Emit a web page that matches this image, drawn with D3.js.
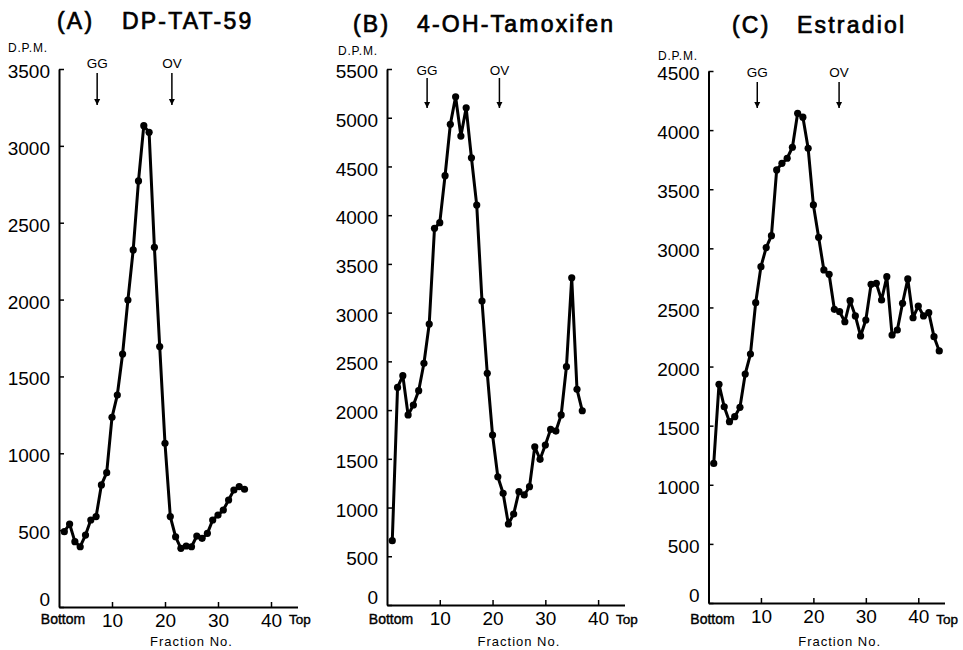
<!DOCTYPE html>
<html>
<head>
<meta charset="utf-8">
<script src="https://cdn.jsdelivr.net/npm/d3@7"></script>
<style>
  body { margin: 0; background: #fff; }
  text { font-family: "Liberation Sans", Arial, sans-serif; fill: #000; }
</style>
</head>
<body>
<div id="chart"></div>
<script>
// ---- data (fraction no. -> D.P.M.) ----
var fractionsA = d3.range(1, 36);
var dpmA = [490, 540, 425, 392, 468, 566, 588, 794, 874, 1234,
            1379, 1646, 1997, 2323, 2772, 3131, 3088, 2340, 1694, 1065,
            588, 457, 382, 397, 392, 462, 447, 479, 566, 598,
            631, 696, 761, 783, 766];

var fractionsB = d3.range(1, 38);
var dpmB = [660, 2233, 2353, 1950, 2052, 2199, 2480, 2883, 3865, 3923,
            4405, 4932, 5215, 4812, 5102, 4589, 4104, 3119, 2377, 1744,
            1316, 1146, 831, 934, 1163, 1129, 1214, 1624, 1495, 1642,
            1802, 1785, 1950, 2445, 3358, 2213, 1993];

var fractionsC = d3.range(1, 45);
var dpmC = [1181, 1850, 1660, 1534, 1576, 1655, 1937, 2106, 2540, 2845,
            3006, 3107, 3663, 3719, 3762, 3855, 4142, 4109, 3846, 3367,
            3093, 2817, 2780, 2484, 2464, 2379, 2557, 2428, 2259, 2394,
            2696, 2704, 2563, 2760, 2267, 2309, 2535, 2741, 2413, 2512,
            2428, 2456, 2253, 2132];

// panel titles and y axis tops
var panelLetters = ["(A)", "(B)", "(C)"];
var panelNames = ["DP-TAT-59", "4-OH-Tamoxifen", "Estradiol"];
var yMaxes = [3500, 5500, 4500];

// marker positions (fraction no.) for GG and OV
var markerNames = ["GG", "OV"];
var markersA = [7.2, 21.3];
var markersB = [7.6, 21.3];
var markersC = [9.3, 24.9];

var xTicks = [10, 20, 30, 40];

// ---- layout (pixel geometry of each panel) ----
var panels = [
  {xs: fractionsA, ys: dpmA, marks: markersA, left: 59,  right: 297.5, top: 69, bottom: 607,
   titleY: 29, letterX: 57,  nameX: 122, dpmX: 8,   dpmY: 52, markY: 68, arrowTop: 73, arrowBot: 105},
  {xs: fractionsB, ys: dpmB, marks: markersB, left: 387, right: 624.5, top: 69, bottom: 605,
   titleY: 32, letterX: 353, nameX: 417, dpmX: 338, dpmY: 55, markY: 75, arrowTop: 78, arrowBot: 108},
  {xs: fractionsC, ys: dpmC, marks: markersC, left: 708.5, right: 944.5, top: 71, bottom: 603,
   titleY: 33, letterX: 732, nameX: 797, dpmX: 658, dpmY: 60, markY: 77, arrowTop: 82, arrowBot: 108}
];

var svg = d3.select("#chart")
    .append("svg")
    .attr("width", 963)
    .attr("height", 650);

// arrow head
svg.append("defs").append("marker")
    .attr("id", "head")
    .attr("viewBox", "0 0 10 10")
    .attr("refX", 10).attr("refY", 5)
    .attr("markerWidth", 6).attr("markerHeight", 8)
    .attr("markerUnits", "userSpaceOnUse")
    .attr("orient", "auto")
    .append("path")
    .attr("d", "M0,0 L10,5 L0,10 Z")
    .attr("fill", "#000");

panels.forEach(function(p, i) {

    var x = d3.scaleLinear().domain([0, 45]).range([p.left, p.right]);
    var y = d3.scaleLinear().domain([0, yMaxes[i]]).range([p.bottom, p.top]);
    var g = svg.append("g");

    // title (medium weight: regular face with a thin outline)
    g.append("text")
        .attr("x", p.letterX).attr("y", p.titleY)
        .attr("stroke", "#000").attr("stroke-width", 0.7)
        .style("font-size", "23px").style("letter-spacing", "2.2px")
        .text(panelLetters[i]);
    g.append("text")
        .attr("x", p.nameX).attr("y", p.titleY)
        .attr("stroke", "#000").attr("stroke-width", 0.7)
        .style("font-size", "23px").style("letter-spacing", "2.2px")
        .text(panelNames[i]);

    // D.P.M. label
    g.append("text")
        .attr("x", p.dpmX).attr("y", p.dpmY)
        .style("font-size", "12px").style("letter-spacing", "0.8px")
        .text("D.P.M.");

    // Y axis, ticks pointing inward
    var yAxis = g.append("g")
        .attr("transform", "translate(" + p.left + ",0)")
        .call(d3.axisLeft(y).ticks(yMaxes[i] / 500).tickFormat(d3.format("d"))
            .tickSizeInner(-5).tickSizeOuter(0).tickPadding(9));
    yAxis.selectAll("text").style("font-size", "19px").attr("dy", "0.45em");
    yAxis.selectAll(".tick").filter(function(d) { return d === 0; })
        .select("text").attr("y", -10);

    // X axis
    var xAxis = g.append("g")
        .attr("transform", "translate(0," + p.bottom + ")")
        .call(d3.axisBottom(x).tickValues(xTicks).tickSizeInner(-5).tickSizeOuter(0).tickPadding(7));
    xAxis.selectAll("text").style("font-size", "19px");

    g.selectAll(".domain").attr("stroke-width", 2);
    g.selectAll(".tick line").attr("stroke-width", 1.5);

    // Bottom / Top / Fraction No.
    g.append("text")
        .attr("x", p.left + 4).attr("y", 624)
        .attr("text-anchor", "middle")
        .attr("stroke", "#000").attr("stroke-width", 0.4)
        .style("font-size", "14px")
        .text("Bottom");
    g.append("text")
        .attr("x", x(40) + 18).attr("y", 624)
        .attr("stroke", "#000").attr("stroke-width", 0.4)
        .style("font-size", "13.5px")
        .text("Top");
    g.append("text")
        .attr("x", x(25)).attr("y", 646)
        .attr("text-anchor", "middle")
        .style("font-size", "13px").style("letter-spacing", "1px")
        .text("Fraction No.");

    // GG / OV markers
    p.marks.forEach(function(m, k) {
        g.append("text")
            .attr("x", x(m)).attr("y", p.markY)
            .attr("text-anchor", "middle")
            .style("font-size", "13.5px")
            .text(markerNames[k]);
        g.append("line")
            .attr("x1", x(m)).attr("x2", x(m))
            .attr("y1", p.arrowTop).attr("y2", p.arrowBot)
            .attr("stroke", "#000")
            .attr("stroke-width", 1.5)
            .attr("marker-end", "url(#head)");
    });

    // the profile line
    var pts = p.xs.map(function(f, j) { return {f: f, v: p.ys[j]}; });
    g.append("path")
        .datum(pts)
        .attr("fill", "none")
        .attr("stroke", "#000")
        .attr("stroke-width", 3)
        .attr("stroke-linejoin", "round")
        .attr("d", d3.line()
            .x(function(d) { return x(d.f); })
            .y(function(d) { return y(d.v); }));

    g.selectAll("circle.pt")
        .data(pts)
        .enter()
        .append("circle")
        .attr("class", "pt")
        .attr("cx", function(d) { return x(d.f); })
        .attr("cy", function(d) { return y(d.v); })
        .attr("r", 3.6)
        .attr("fill", "#000");
});
</script>
</body>
</html>
